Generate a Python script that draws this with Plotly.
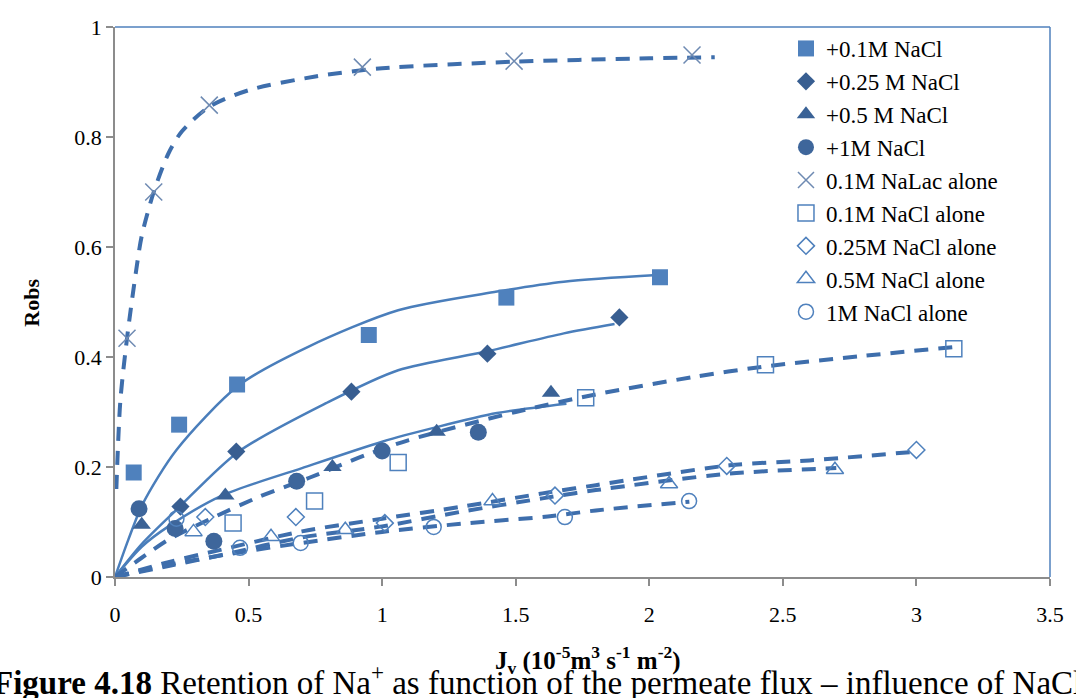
import plotly.graph_objects as go

# ---------------- data ----------------
x_tick_vals = [0, 0.5, 1, 1.5, 2, 2.5, 3, 3.5]
x_tick_text = ["0", "0.5", "1", "1.5", "2", "2.5", "3", "3.5"]
y_tick_vals = [0, 0.2, 0.4, 0.6, 0.8, 1]
y_tick_text = ["0", "0.2", "0.4", "0.6", "0.8", "1"]

# measured points
nacl01_x = [0.07, 0.24, 0.457, 0.95, 1.465, 2.04]
nacl01_y = [0.19, 0.277, 0.35, 0.44, 0.508, 0.545]
nacl025_x = [0.245, 0.454, 0.885, 1.394, 1.888]
nacl025_y = [0.128, 0.228, 0.337, 0.406, 0.472]
nacl05_x = [0.10, 0.413, 0.814, 1.204, 1.632]
nacl05_y = [0.095, 0.148, 0.200, 0.264, 0.335]
nacl1_x = [0.09, 0.225, 0.37, 0.68, 1.0, 1.36]
nacl1_y = [0.124, 0.088, 0.065, 0.174, 0.229, 0.263]
nalac_x = [0.045, 0.145, 0.353, 0.926, 1.494, 2.16]
nalac_y = [0.434, 0.700, 0.858, 0.927, 0.938, 0.949]
alone01_x = [0.442, 0.747, 1.06, 1.762, 2.435, 3.14]
alone01_y = [0.098, 0.138, 0.208, 0.326, 0.386, 0.415]
alone025_x = [0.338, 0.677, 1.01, 1.647, 2.29, 3.0]
alone025_y = [0.109, 0.109, 0.098, 0.148, 0.202, 0.231]
alone05_x = [0.294, 0.584, 0.862, 1.413, 2.074, 2.695]
alone05_y = [0.082, 0.073, 0.086, 0.138, 0.169, 0.195]
alone1_x = [0.23, 0.468, 0.695, 1.193, 1.684, 2.149]
alone1_y = [0.106, 0.053, 0.062, 0.091, 0.109, 0.138]

# fitted curves
fitA_x = [0, 0.05, 0.105, 0.23, 0.465, 0.725, 1.06, 1.43, 1.68, 2.03]
fitA_y = [0, 0.068, 0.134, 0.231, 0.349, 0.419, 0.485, 0.519, 0.537, 0.549]
fitB_x = [0, 0.1, 0.236, 0.46, 0.79, 1.06, 1.39, 1.68, 1.87]
fitB_y = [0, 0.06, 0.125, 0.227, 0.316, 0.376, 0.41, 0.443, 0.46]
fitC_x = [0, 0.1, 0.2, 0.4, 0.7, 1.0, 1.2, 1.43, 1.69]
fitC_y = [0, 0.055, 0.092, 0.148, 0.198, 0.246, 0.272, 0.298, 0.315]
fitLac_x = [0.005, 0.02, 0.045, 0.08, 0.1, 0.145, 0.2, 0.25, 0.353, 0.5, 0.75, 1.0, 1.5, 2.0, 2.245]
fitLac_y = [0.16, 0.32, 0.434, 0.56, 0.62, 0.70, 0.77, 0.81, 0.855, 0.885, 0.91, 0.925, 0.937, 0.943, 0.945]
fitE_x = [0, 0.1, 0.2, 0.35, 0.54, 0.725, 0.94, 1.1, 1.5, 1.8, 2.17, 2.42, 2.8, 3.14]
fitE_y = [0, 0.035, 0.068, 0.104, 0.146, 0.18, 0.222, 0.249, 0.3, 0.332, 0.364, 0.382, 0.402, 0.418]
fitF_x = [0, 0.2, 0.4, 0.7, 1.0, 1.3, 1.6, 1.8, 2.3, 2.6, 3.0]
fitF_y = [0, 0.027, 0.05, 0.083, 0.106, 0.128, 0.152, 0.167, 0.203, 0.212, 0.228]
fitG_x = [0, 0.2, 0.4, 0.7, 1.0, 1.3, 1.6, 1.8, 2.3, 2.7]
fitG_y = [0, 0.02, 0.04, 0.072, 0.092, 0.119, 0.143, 0.158, 0.188, 0.198]
fitH_x = [0, 0.23, 0.47, 0.7, 1.0, 1.3, 1.62, 1.8, 2.15]
fitH_y = [0, 0.025, 0.045, 0.062, 0.082, 0.097, 0.11, 0.121, 0.137]

# ---------------- styles ----------------
FONT = "Liberation Serif, Times New Roman, serif"
SOLID = "rgb(74,126,187)"
DASHC = "rgb(62,110,172)"
OPEN = "rgb(79,129,189)"
DASH = "14px,10px"

fig = go.Figure()

solid_fits = [(fitA_x, fitA_y), (fitB_x, fitB_y), (fitC_x, fitC_y)]
for fx, fy in solid_fits:
    fig.add_trace(go.Scatter(x=fx, y=fy, mode="lines", showlegend=False, hoverinfo="skip",
                             line=dict(color=SOLID, width=2.5, shape="spline", smoothing=0.8)))
dashed_fits = [(fitLac_x, fitLac_y), (fitE_x, fitE_y), (fitF_x, fitF_y), (fitG_x, fitG_y), (fitH_x, fitH_y)]
for fx, fy in dashed_fits:
    fig.add_trace(go.Scatter(x=fx, y=fy, mode="lines", showlegend=False, hoverinfo="skip",
                             line=dict(color=DASHC, width=4, dash=DASH, shape="spline", smoothing=0.8)))

series = [
    ("+0.1M NaCl", nacl01_x, nacl01_y, "square", "rgb(79,129,189)", 16),
    ("+0.25 M NaCl", nacl025_x, nacl025_y, "diamond", "rgb(56,94,145)", 14),
    ("+0.5 M NaCl", nacl05_x, nacl05_y, "triangle-up", "rgb(58,98,150)", 16),
    ("+1M NaCl", nacl1_x, nacl1_y, "circle", "rgb(62,102,155)", 17),
]
for name, xs, ys, sym, col, sz in series:
    fig.add_trace(go.Scatter(x=xs, y=ys, mode="markers", name=name,
                             marker=dict(symbol=sym, color=col, size=sz, line=dict(width=0))))

fig.add_trace(go.Scatter(x=nalac_x, y=nalac_y, mode="markers", name="0.1M NaLac alone",
                         marker=dict(symbol="x-thin", size=17, color="rgb(110,138,178)",
                                     line=dict(width=1.5, color="rgb(110,138,178)"))))
open_series = [
    ("0.1M NaCl alone", alone01_x, alone01_y, "square-open", 16),
    ("0.25M NaCl alone", alone025_x, alone025_y, "diamond-open", 13),
    ("0.5M NaCl alone", alone05_x, alone05_y, "triangle-up-open", 15),
    ("1M NaCl alone", alone1_x, alone1_y, "circle-open", 15),
]
for name, xs, ys, sym, sz in open_series:
    fig.add_trace(go.Scatter(x=xs, y=ys, mode="markers", name=name,
                             marker=dict(symbol=sym, size=sz, color=OPEN, line=dict(width=1.5, color=OPEN))))

L, R, T, B = 115, 19, 27, 121
W, H = 1076, 698
pw = W - L - R
ph = H - T - B

def px2x(px):
    return (px - L) / pw

def px2y(py):
    return (H - B - py) / ph

axis_common = dict(showline=True, linecolor="#8c8c8c", linewidth=1.5, ticks="outside", ticklen=7,
                   tickcolor="#8c8c8c", tickwidth=1.5, showgrid=False, zeroline=False,
                   tickfont=dict(family=FONT, size=22, color="black"))
fig.update_layout(
    width=W, height=H, margin=dict(l=L, r=R, t=T, b=B),
    paper_bgcolor="white", plot_bgcolor="white",
    xaxis=dict(range=[0, 3.5], tickvals=x_tick_vals, ticktext=x_tick_text, ticklabelstandoff=10, **axis_common),
    yaxis=dict(range=[0, 1], tickvals=y_tick_vals, ticktext=y_tick_text, **axis_common),
    legend=dict(x=px2x(791), y=1.0, xanchor="left", yanchor="top", bgcolor="rgba(0,0,0,0)",
                font=dict(family=FONT, size=23, color="black"), traceorder="normal"),
    showlegend=True,
)

# plot area border (top / right) in blue
fig.add_shape(type="line", xref="paper", yref="paper", x0=0, x1=1, y0=1, y1=1,
              line=dict(color="rgb(79,129,189)", width=1.5), layer="below")
fig.add_shape(type="line", xref="paper", yref="paper", x0=1, x1=1, y0=0, y1=1,
              line=dict(color="rgb(79,129,189)", width=1.5), layer="below")

fig.add_annotation(text="<b>Robs</b>", xref="paper", yref="paper", x=px2x(30), y=px2y(303),
                   xanchor="center", yanchor="middle",
                   textangle=-90, showarrow=False, font=dict(family=FONT, size=22, color="black"))
fig.add_annotation(text="<b>J<sub>v</sub> (10<sup>-5</sup>m<sup>3</sup> s<sup>-1</sup> m<sup>-2</sup>)</b>",
                   xref="paper", yref="paper", x=px2x(592), y=px2y(660), xanchor="center", yanchor="middle",
                   showarrow=False, font=dict(family=FONT, size=25, color="black"))
fig.add_annotation(text="<b>Figure 4.18</b> Retention of Na<sup>+</sup> as function of the permeate flux \u2013 influence of NaCl",
                   xref="paper", yref="paper", x=px2x(-10), y=px2y(680), xanchor="left", yanchor="middle",
                   showarrow=False, font=dict(family=FONT, size=33, color="black"))

fig.write_html("out.html")
